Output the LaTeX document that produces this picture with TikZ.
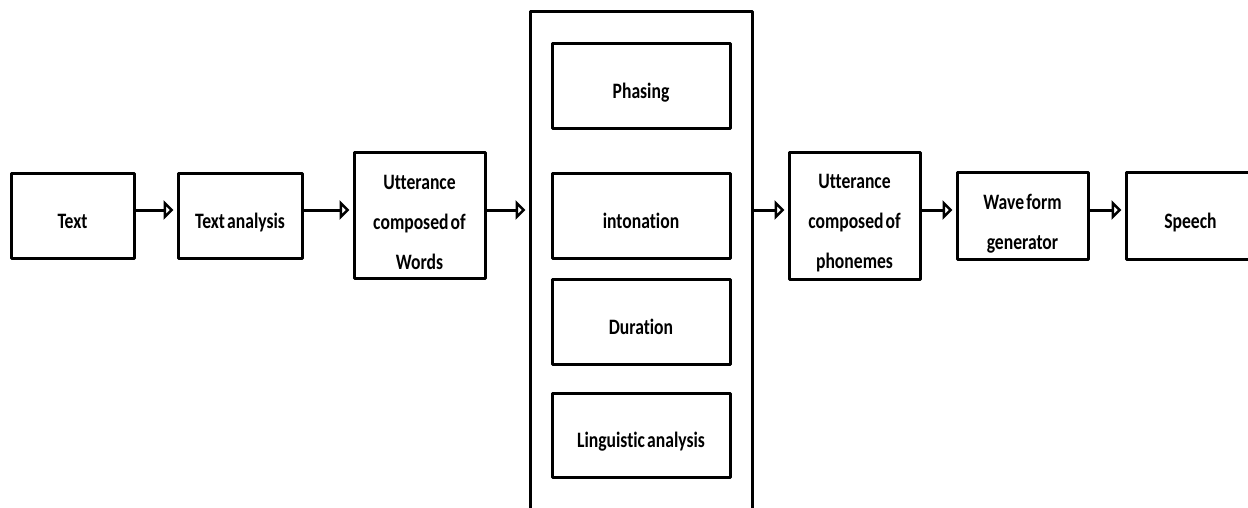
\documentclass[tikz,border=0pt]{standalone}
\usepackage{fontspec}
\setmainfont{Carlito}[FakeStretch=0.8, WordSpace=0.55, Ligatures={NoCommon}]
\usetikzlibrary{arrows.meta}
\begin{document}
\begin{tikzpicture}[x=1pt,y=-1pt,
  box/.style={draw, line width=3pt, line join=round, inner sep=0pt},
  lbl/.style={font=\bfseries\fontsize{22}{40}\selectfont, align=center, text height=14pt, text depth=4pt, inner sep=0pt, yshift=-7.5pt},
  mlbl/.style={font=\bfseries\fontsize{22}{40}\selectfont, align=center, inner sep=0pt},
  arr/.style={line width=3pt, -{Triangle[open,length=10pt,width=19pt]}, shorten >=3pt}]
\useasboundingbox (0,0) rectangle (1248,508);
\clip (0,0) rectangle (1248,508);
% left chain
\node[box, minimum width=123pt, minimum height=84pt, label={[lbl]center:Text}] (t) at (72.5,216) {};
\node[box, minimum width=124pt, minimum height=84pt, label={[lbl]center:Text analysis}] (ta) at (240,216) {};
\node[box, minimum width=131pt, minimum height=125pt, label={[mlbl, yshift=-6.5pt]center:Utterance\\composed of\\Words}] (uw) at (419.5,215.5) {};
% big box
\node[box, minimum width=222pt, minimum height=528pt] (big) at (641,276) {};
\node[box, minimum width=178pt, minimum height=85pt, label={[lbl]center:Phasing}] (ph) at (641,86.5) {};
\node[box, minimum width=178pt, minimum height=84pt, label={[lbl]center:intonation}] (in) at (641,216) {};
\node[box, minimum width=178pt, minimum height=85pt, label={[lbl]center:Duration}] (du) at (641,321.5) {};
\node[box, minimum width=178pt, minimum height=84pt, label={[lbl]center:Linguistic analysis}] (la) at (641,435) {};
% right chain
\node[box, minimum width=131pt, minimum height=126pt, label={[mlbl, yshift=-7.5pt]center:Utterance\\composed of\\phonemes}] (up) at (854.5,216) {};
\node[box, minimum width=131pt, minimum height=86pt, label={[mlbl, yshift=-7.5pt]center:Wave form\\generator}] (wf) at (1022.5,216) {};
\node[box, minimum width=129pt, minimum height=86pt, label={[lbl]center:Speech}] (sp) at (1190.5,216) {};
% arrows
\coordinate (ay) at (0,210);
\draw[arr] (t.east |- ay) -- (ta.west |- ay);
\draw[arr] (ta.east |- ay) -- (uw.west |- ay);
\draw[arr] (uw.east |- ay) -- (big.west |- ay);
\draw[arr] (big.east |- ay) -- (up.west |- ay);
\draw[arr] (up.east |- ay) -- (wf.west |- ay);
\draw[arr] (wf.east |- ay) -- (sp.west |- ay);
\end{tikzpicture}
\end{document}
